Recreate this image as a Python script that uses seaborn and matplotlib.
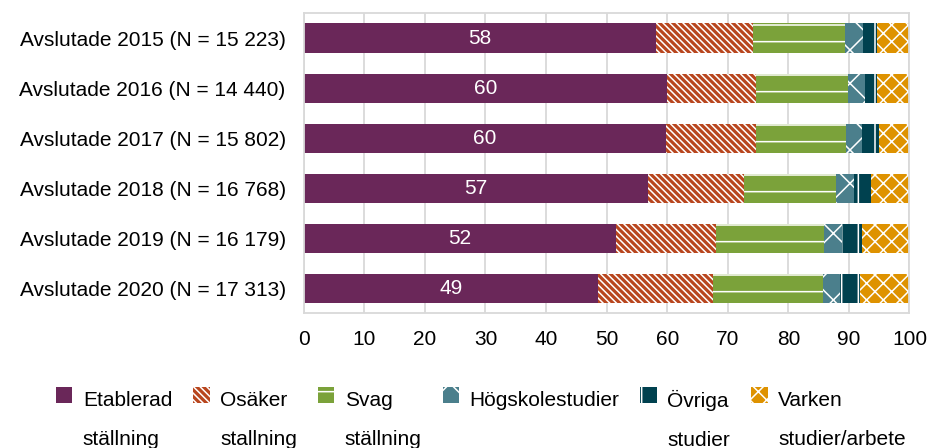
import seaborn as sns
import matplotlib.pyplot as plt
import matplotlib.patches as mpatches
from matplotlib.legend_handler import HandlerPatch
import numpy as np
import pandas as pd

# values (percent of each cohort)
years = ["Avslutade 2015 (N = 15 223)", "Avslutade 2016 (N = 14 440)",
         "Avslutade 2017 (N = 15 802)", "Avslutade 2018 (N = 16 768)",
         "Avslutade 2019 (N = 16 179)", "Avslutade 2020 (N = 17 313)"]
etablerad = [58.1, 59.9, 59.8, 56.8, 51.6, 48.6]
osaker = [16.1, 14.8, 14.9, 15.9, 16.5, 19.0]
svag = [15.2, 15.1, 14.8, 15.1, 17.8, 18.1]
hogskola = [3.0, 2.8, 2.7, 3.0, 2.9, 2.9]
ovriga = [2.2, 2.1, 2.8, 2.9, 3.4, 3.2]
varken = [5.4, 5.3, 5.0, 6.3, 7.8, 8.2]

series = ["Etablerad\nställning", "Osäker\nstallning", "Svag\nställning",
          "Högskolestudier\n", "Övriga\nstudier", "Varken\nstudier/arbete"]
colors = ["#6A2759", "#B8461E", "#7BA23A", "#4B7F8C", "#00414F", "#DE9200"]
hatches = ["", "\\\\\\\\\\", "-", "x", "|", "xx"]

FS = 15
LINESP = 2.35

sns.set_style("white")
plt.rcParams["font.family"] = ["Liberation Sans", "DejaVu Sans"]
plt.rcParams["hatch.linewidth"] = 1.1
plt.rcParams["text.color"] = "black"
plt.rcParams["xtick.color"] = "black"
plt.rcParams["ytick.color"] = "black"

df = pd.DataFrame({"year": years, "s0": etablerad, "s1": osaker, "s2": svag,
                   "s3": hogskola, "s4": ovriga, "s5": varken})
cum = df[["s0", "s1", "s2", "s3", "s4", "s5"]].cumsum(axis=1)

fig = plt.figure(figsize=(9.29, 4.48), dpi=100)
ax = fig.add_axes([0.327, 0.301, 0.652, 0.670])

# stacked bars: draw cumulative totals from the outside in
for i in range(5, -1, -1):
    sns.barplot(x=cum["s%d" % i], y=df["year"], orient="h", color=colors[i],
                hatch=hatches[i], edgecolor="white", linewidth=0, width=0.58,
                saturation=1, ax=ax)

for i, v in enumerate(etablerad):
    ax.text(v / 2, i, f"{v:.0f}", color="white", ha="center", va="center", fontsize=FS)

ax.set_xlim(0, 100)
ax.set_ylim(5.5, -0.5)
ax.set_xticks(np.arange(0, 101, 10))
ax.set_xlabel("")
ax.set_ylabel("")
ax.grid(axis="x", color="#D9D9D9", lw=1.3)
ax.set_axisbelow(True)
for s in ax.spines.values():
    s.set_color("#D9D9D9")
    s.set_linewidth(1.3)
ax.tick_params(axis="x", length=4, color="#D9D9D9", width=1.3, labelsize=FS, pad=8,
               labelcolor="black")
ax.tick_params(axis="y", length=0, labelsize=FS, pad=13, labelcolor="black")


class TopHandle(HandlerPatch):
    # put the legend box next to the first line of a two-line label
    def create_artists(self, legend, orig_handle, xdescent, ydescent, width, height, fontsize, trans):
        asc = 0.72 * fontsize
        desc = 0.21 * fontsize
        first_base = asc * LINESP / 2 + desc / 2
        size = 0.76 * fontsize
        top = first_base + 0.93 * fontsize + 1
        p = mpatches.Rectangle((-xdescent, top - size), width, size,
                               facecolor=orig_handle.get_facecolor(),
                               hatch=orig_handle.get_hatch(),
                               edgecolor="white", lw=0, transform=trans)
        return [p]


handles = [mpatches.Patch(facecolor=c, hatch=h, edgecolor="white", lw=0, label=l)
           for c, h, l in zip(colors, hatches, series)]
leg = fig.legend(handles=handles, loc="upper left", bbox_to_anchor=(0.060, 0.130),
                 ncol=6, frameon=False, fontsize=FS, handlelength=0.8,
                 handletextpad=0.5, columnspacing=1.0, borderpad=0, borderaxespad=0,
                 handler_map={mpatches.Patch: TopHandle()})
for t in leg.get_texts():
    t.set_linespacing(LINESP)
    t.set_color("black")

fig.savefig("out.png", dpi=100)
